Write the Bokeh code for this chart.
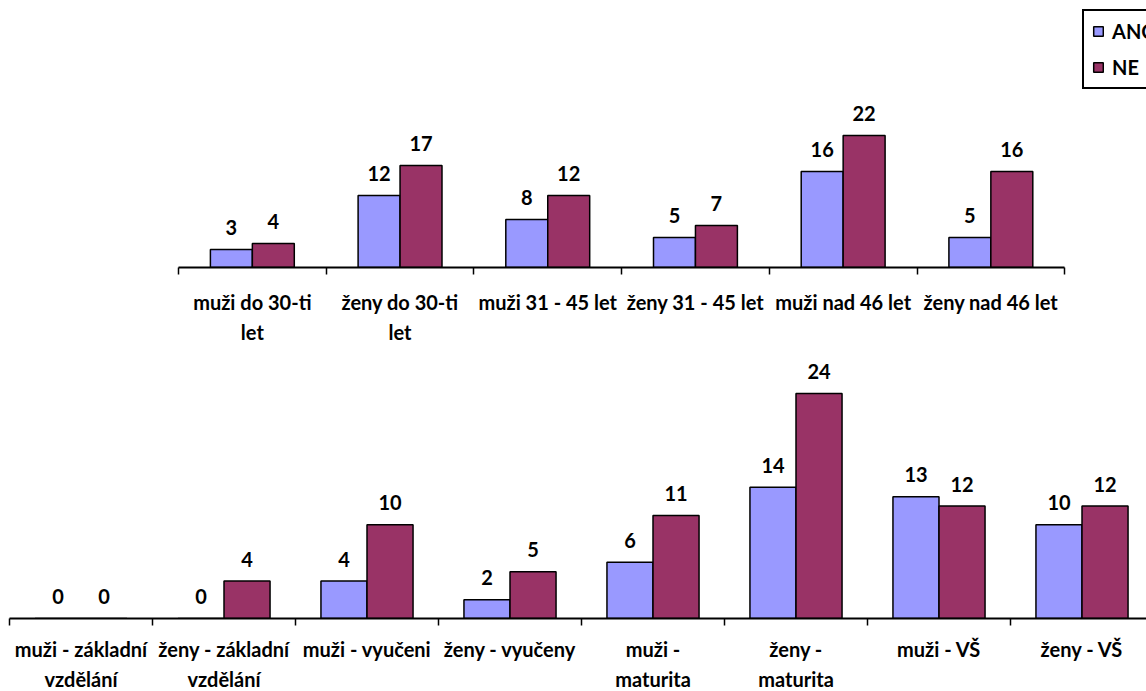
from bokeh.plotting import figure
from bokeh.models import (Range1d, LinearAxis, FixedTicker, Legend, LegendItem,
                          ColumnDataSource)
from bokeh.embed import file_html
from bokeh.resources import INLINE
from bokeh.core.properties import value

# --- data -------------------------------------------------------------
age_groups = ["muži do 30-ti\nlet", "ženy do 30-ti\nlet", "muži 31 - 45 let",
              "ženy 31 - 45 let", "muži nad 46 let", "ženy nad 46 let"]
age_ano = [3, 12, 8, 5, 16, 5]
age_ne = [4, 17, 12, 7, 22, 16]

edu_groups = ["muži - základní\nvzdělání", "ženy - základní\nvzdělání",
              "muži - vyučeni", "ženy - vyučeny", "muži -\nmaturita",
              "ženy -\nmaturita", "muži - VŠ", "ženy - VŠ"]
edu_ano = [0, 0, 4, 2, 6, 14, 13, 10]
edu_ne = [0, 4, 10, 5, 11, 24, 12, 12]

series_names = ["ANO", "NE"]

# --- style ------------------------------------------------------------
FONT = "Lato"
FONT_SIZE = "20px"
ANO_COLOR = "#9999FF"
NE_COLOR = "#993366"


def bar_panel(cats, ano, ne, *, frame_width, frame_height, x_end, y_end,
              left, bottom, bar_w, standoff, line_height):
    n = len(cats)
    centers = [i + 0.5 for i in range(n)]
    p = figure(frame_width=frame_width, frame_height=frame_height,
               x_range=Range1d(0, x_end), y_range=Range1d(0, y_end),
               output_backend="svg", toolbar_location=None,
               x_axis_location=None, y_axis_location=None,
               min_border_left=left, min_border_right=0,
               min_border_top=0, min_border_bottom=bottom)
    p.outline_line_color = None
    p.grid.visible = False
    p.background_fill_color = "white"
    p.border_fill_color = "white"

    src = ColumnDataSource(dict(
        x_ano=[c - bar_w / 2 for c in centers],
        x_ne=[c + bar_w / 2 for c in centers],
        ano=ano, ne=ne,
        ano_txt=[str(v) for v in ano],
        ne_txt=[str(v) for v in ne],
    ))
    r_ano = p.vbar(x="x_ano", top="ano", bottom=0, width=bar_w, source=src,
                   fill_color=ANO_COLOR, line_color="black", line_width=1.5)
    r_ne = p.vbar(x="x_ne", top="ne", bottom=0, width=bar_w, source=src,
                  fill_color=NE_COLOR, line_color="black", line_width=1.5)

    for xcol, ycol, tcol in (("x_ano", "ano", "ano_txt"), ("x_ne", "ne", "ne_txt")):
        p.text(x=xcol, y=ycol, text=tcol, source=src, y_offset=-22,
               text_align="center", text_baseline="middle",
               text_font=value(FONT), text_font_style="bold",
               text_font_size=FONT_SIZE, text_color="black")

    # category labels under the centres, tick marks on the category borders
    axis = LinearAxis(
        ticker=FixedTicker(ticks=centers, minor_ticks=list(range(n + 1))),
        bounds=(0, n),
        major_label_overrides={c: lbl for c, lbl in zip(centers, cats)},
        major_tick_out=0, major_tick_in=0,
        minor_tick_out=7, minor_tick_in=0,
        minor_tick_line_color="black", minor_tick_line_width=1.5,
        axis_line_color="black", axis_line_width=2,
        major_label_standoff=standoff,
        major_label_text_font=FONT, major_label_text_font_style="bold",
        major_label_text_font_size=FONT_SIZE, major_label_text_color="black",
        major_label_text_line_height=line_height,
    )
    p.add_layout(axis, "below")
    return p, r_ano, r_ne


# age groups: 147.7 px per category, 6 px per respondent
top, t_ano, t_ne = bar_panel(age_groups, age_ano, age_ne,
                             frame_width=968, frame_height=267,
                             x_end=968 / 147.7, y_end=267 / 6,
                             left=178, bottom=83, bar_w=0.284,
                             standoff=15, line_height=1.25)

legend = Legend(
    items=[LegendItem(label=series_names[0], renderers=[t_ano]),
           LegendItem(label=series_names[1], renderers=[t_ne])],
    location=(904, 178),
    border_line_color="black", border_line_width=2, border_line_alpha=1,
    background_fill_color="white", background_fill_alpha=1,
    glyph_width=12, glyph_height=12, label_height=20, label_standoff=8,
    spacing=12, padding=8, margin=0,
    label_text_font=FONT, label_text_font_style="bold",
    label_text_font_size=FONT_SIZE, label_text_color="black",
)
top.add_layout(legend)

# education groups: 143 px per category, 9.375 px per respondent
bottom, _, _ = bar_panel(edu_groups, edu_ano, edu_ne,
                         frame_width=1137, frame_height=268,
                         x_end=1137 / 143, y_end=268 / 9.375,
                         left=9, bottom=73, bar_w=0.322,
                         standoff=11, line_height=1.25)

open("out.html", "w").write(file_html([top, bottom], INLINE))
